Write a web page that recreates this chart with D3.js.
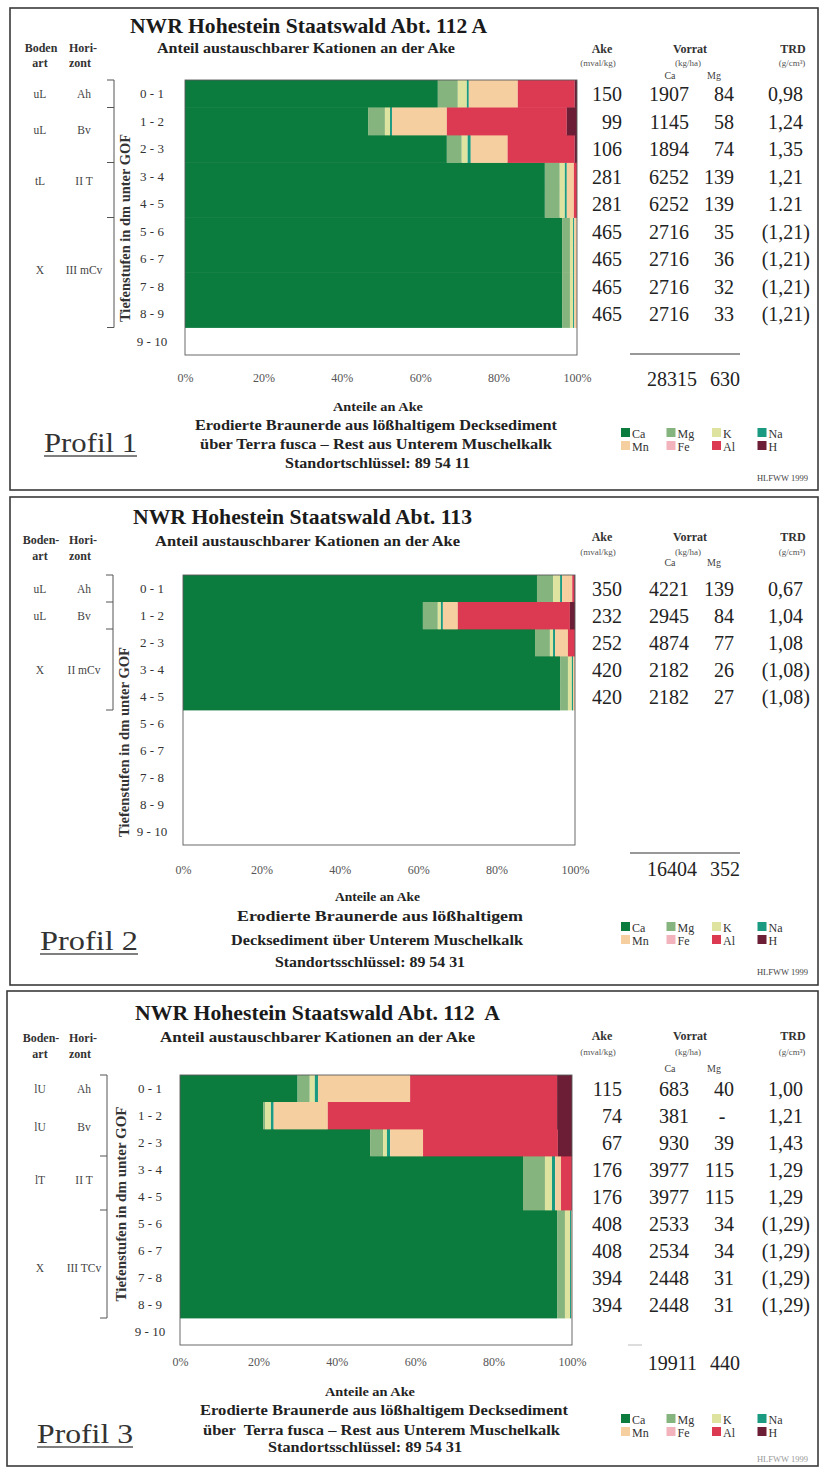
<!DOCTYPE html>
<html><head><meta charset="utf-8">
<script src="https://cdn.jsdelivr.net/npm/d3@7"></script>
<style>
body{margin:0;background:#fff}
svg{display:block}
text{font-family:"Liberation Serif","Times New Roman",serif}
</style>
</head><body>
<svg id="c" width="825" height="1472"></svg>
<script>
// ---------------- DATA ----------------
const cations = ["Ca","Mg","K","Na","Mn","Fe","Al","H"];
const cationColors = ["#0b7b3e","#86b47e","#dfe3a0","#1b9a82","#f5cfa0","#f2b3bd","#dc3a52","#6b1e35"];
const depthLabels = ["0 - 1","1 - 2","2 - 3","3 - 4","4 - 5","5 - 6","6 - 7","7 - 8","8 - 9","9 - 10"];
const tickValues = [0,20,40,60,80,100];

// Profil 1 – shares of Ake (%) per depth step
const p1Ca = [64.5,46.7,66.8,91.8,91.8,96.2,96.2,96.2,96.2];
const p1Mg = [5.1,4.3,3.8,3.8,3.8,2.0,2.0,2.0,2.0];
const p1K  = [2.3,1.3,1.5,1.3,1.3,0.8,0.8,0.8,0.8];
const p1Na = [0.5,0.5,0.8,0.5,0.5,0.3,0.3,0.3,0.3];
const p1Mn = [12.5,14.0,9.4,1.8,1.8,0.7,0.7,0.7,0.7];
const p1Fe = [0,0,0,0,0,0,0,0,0];
const p1Al = [14.5,30.6,17.1,0.8,0.8,0,0,0,0];
const p1H  = [0.6,2.6,0.6,0,0,0,0,0,0];
const p1Ake = ["150","99","106","281","281","465","465","465","465"];
const p1VorratCa = ["1907","1145","1894","6252","6252","2716","2716","2716","2716"];
const p1VorratMg = ["84","58","74","139","139","35","36","32","33"];
const p1Trd = ["0,98","1,24","1,35","1,21","1.21","(1,21)","(1,21)","(1,21)","(1,21)"];
const p1Totals = ["28315","630"];
const p1Bodenart = ["uL","uL","tL","X"];
const p1Horizont = ["Ah","Bv","II T","III mCv"];
const p1HorizonFrom = [0,1,3,5];
const p1HorizonTo = [1,3,5,9];
const p1BracketTicks = [0,1,3,5,9];
const p1Desc = ["Erodierte Braunerde aus lößhaltigem Decksediment","über Terra fusca – Rest aus Unterem Muschelkalk","Standortschlüssel: 89 54 11"];

// Profil 2
const p2Ca = [90.3,61.2,89.8,96.2,96.2];
const p2Mg = [4.1,3.8,3.8,2.0,2.0];
const p2K  = [1.8,0.8,0.8,1.0,1.0];
const p2Na = [0.5,0.5,0.5,0.3,0.3];
const p2Mn = [2.6,3.8,3.3,0.5,0.5];
const p2Fe = [0,0,0,0,0];
const p2Al = [0.5,28.6,1.8,0,0];
const p2H  = [0.2,1.3,0,0,0];
const p2Ake = ["350","232","252","420","420"];
const p2VorratCa = ["4221","2945","4874","2182","2182"];
const p2VorratMg = ["139","84","77","26","27"];
const p2Trd = ["0,67","1,04","1,08","(1,08)","(1,08)"];
const p2Totals = ["16404","352"];
const p2Bodenart = ["uL","uL","X"];
const p2Horizont = ["Ah","Bv","II mCv"];
const p2HorizonFrom = [0,1,2];
const p2HorizonTo = [1,2,5];
const p2BracketTicks = [0,1,2,5];
const p2Desc = ["Erodierte Braunerde aus lößhaltigem","Decksediment über Unterem Muschelkalk","Standortsschlüssel: 89 54 31"];

// Profil 3
const p3Ca = [30.0,21.2,48.5,87.5,87.5,96.2,96.2,96.2,96.2];
const p3Mg = [3.1,0.5,3.3,5.6,5.6,2.0,2.0,2.0,2.0];
const p3K  = [1.3,1.5,1.0,1.8,1.8,1.3,1.3,1.3,1.3];
const p3Na = [0.8,0.7,0.8,0.8,0.8,0.3,0.3,0.3,0.3];
const p3Mn = [23.5,13.8,8.4,1.5,1.5,0.2,0.2,0.2,0.2];
const p3Fe = [0,0,0,0,0,0,0,0,0];
const p3Al = [37.5,58.5,34.4,2.8,2.8,0,0,0,0];
const p3H  = [3.8,3.8,3.6,0,0,0,0,0,0];
const p3Ake = ["115","74","67","176","176","408","408","394","394"];
const p3VorratCa = ["683","381","930","3977","3977","2533","2534","2448","2448"];
const p3VorratMg = ["40","-","39","115","115","34","34","31","31"];
const p3Trd = ["1,00","1,21","1,43","1,29","1,29","(1,29)","(1,29)","(1,29)","(1,29)"];
const p3Totals = ["19911","440"];
const p3Bodenart = ["lU","lU","lT","X"];
const p3Horizont = ["Ah","Bv","II T","III TCv"];
const p3HorizonFrom = [0,1,3,5];
const p3HorizonTo = [1,3,5,9];
const p3BracketTicks = [0,3,5,9];
const p3Desc = ["Erodierte Braunerde aus lößhaltigem Decksediment","über\u00a0 Terra fusca – Rest aus Unterem Muschelkalk","Standortsschlüssel: 89 54 31"];

// ---------------- LAYOUT ----------------
const panels = [
  {name:"Profil 1", title:"NWR Hohestein Staatswald Abt. 112 A",
   series:[p1Ca,p1Mg,p1K,p1Na,p1Mn,p1Fe,p1Al,p1H], ake:p1Ake, vca:p1VorratCa, vmg:p1VorratMg, trd:p1Trd,
   totals:p1Totals, art:p1Bodenart, hor:p1Horizont, hf:p1HorizonFrom, ht:p1HorizonTo, bt:p1BracketTicks, desc:p1Desc,
   bodenHead:"Boden", labShift:[0,-5,-9,-3],
   box:[10,8,818,490], titleX:[130,487], titleY:33, subX:[157,455], subY:53, bodenY:52, artY:67,
   plotTop:80, rowH:27.5, x0:185, x1:577, bracketX:114, rowLabelX:152, yLabX:125, yLabC:228, yLabLen:188,
   headY:53, unitY:66, caMgY:79, tickY:382, totalLineY:354, totalsY:386, anteileY:411, descY:[430,449,468],
   descX:[[195,557],[200,552],[285,470]], anteileX:[333,423], profilX:[44,137], profilY:452, legendY:428, hlfwwY:481, faintH:false},
  {name:"Profil 2", title:"NWR Hohestein Staatswald Abt. 113",
   series:[p2Ca,p2Mg,p2K,p2Na,p2Mn,p2Fe,p2Al,p2H], ake:p2Ake, vca:p2VorratCa, vmg:p2VorratMg, trd:p2Trd,
   totals:p2Totals, art:p2Bodenart, hor:p2Horizont, hf:p2HorizonFrom, ht:p2HorizonTo, bt:p2BracketTicks, desc:p2Desc,
   bodenHead:"Boden-", labShift:[0,0,0],
   box:[10,497,818,985], titleX:[133,472], titleY:524, subX:[155,460], subY:546, bodenY:544, artY:560,
   plotTop:575, rowH:27, x0:183, x1:575, bracketX:113, rowLabelX:152, yLabX:124, yLabC:742, yLabLen:190,
   headY:541, unitY:555, caMgY:566, tickY:874, totalLineY:853, totalsY:876, anteileY:901, descY:[921,945,967],
   descX:[[237,523],[231,523],[275,465]], anteileX:[335,420], profilX:[40,138], profilY:950, legendY:922, hlfwwY:975, faintH:false},
  {name:"Profil 3", title:"NWR Hohestein Staatswald Abt. 112\u00a0 A",
   series:[p3Ca,p3Mg,p3K,p3Na,p3Mn,p3Fe,p3Al,p3H], ake:p3Ake, vca:p3VorratCa, vmg:p3VorratMg, trd:p3Trd,
   totals:p3Totals, art:p3Bodenart, hor:p3Horizont, hf:p3HorizonFrom, ht:p3HorizonTo, bt:p3BracketTicks, desc:p3Desc,
   bodenHead:"Boden-", labShift:[0,-2,-3,4],
   box:[7,991,818,1466], titleX:[135,500], titleY:1020, subX:[160,475], subY:1042, bodenY:1042, artY:1058,
   plotTop:1075, rowH:27, x0:180, x1:572, bracketX:107, rowLabelX:150, yLabX:121, yLabC:1204, yLabLen:195,
   headY:1040, unitY:1055, caMgY:1072, tickY:1366, totalLineY:null, totalsY:1370, anteileY:1396, descY:[1415,1435,1452],
   descX:[[200,568],[203,560],[268,462]], anteileX:[325,415], profilX:[37,133], profilY:1443, legendY:1414, hlfwwY:1462, faintH:true}
];

const svg = d3.select("#c");

function T(g, str, x, y, o={}) {
  const t = g.append("text").attr("x",x).attr("y",y).text(str)
    .attr("font-size",o.size||12).attr("fill",o.fill||"#222")
    .attr("text-anchor",o.anchor||"middle");
  if (o.weight) t.attr("font-weight",o.weight);
  if (o.len) t.attr("textLength",o.len).attr("lengthAdjust","spacingAndGlyphs");
  return t;
}

function drawPanel(p) {
  const g = svg.append("g");
  const [bx0,by0,bx1,by1] = p.box;
  g.append("rect").attr("x",bx0).attr("y",by0).attr("width",bx1-bx0).attr("height",by1-by0)
    .attr("fill","none").attr("stroke","#3a3a3a").attr("stroke-width",1.6);

  const x = d3.scaleLinear().domain([0,100]).range([p.x0,p.x1]);
  const y = d3.scaleBand().domain(depthLabels).range([p.plotTop, p.plotTop + p.rowH*depthLabels.length]);
  const yDepth = d3.scaleLinear().domain([0,10]).range([p.plotTop, p.plotTop + p.rowH*10]);

  const n = p.series[0].length;
  const rows = d3.range(n).map(i => {
    const o = {depth: depthLabels[i]};
    cations.forEach((c,j) => o[c] = p.series[j][i]);
    return o;
  });
  const stacked = d3.stack().keys(cations)(rows);
  g.append("g").selectAll("g").data(stacked).join("g")
    .attr("fill",(d,i)=>cationColors[i])
    .selectAll("rect").data(d=>d).join("rect")
    .attr("x",d=>x(d[0])).attr("width",d=>Math.max(0,x(d[1])-x(d[0])))
    .attr("y",d=>y(d.data.depth)).attr("height",y.bandwidth()+0.4);

  g.append("rect").attr("x",p.x0).attr("y",p.plotTop).attr("width",p.x1-p.x0).attr("height",p.rowH*10)
    .attr("fill","none").attr("stroke","#5a5a5a").attr("stroke-width",0.9);

  const ax = g.append("g").attr("transform",`translate(0,${p.tickY})`)
    .call(d3.axisBottom(x).tickValues(tickValues).tickSize(0).tickFormat(d=>d+"%"));
  ax.attr("font-family",null);
  ax.select(".domain").remove();
  ax.selectAll("text").attr("y",0).attr("dy",0).attr("font-size",12).attr("fill","#555");

  const ay = g.append("g").attr("transform",`translate(${p.rowLabelX},0)`)
    .call(d3.axisLeft(y).tickSize(0));
  ay.attr("font-family",null);
  ay.select(".domain").remove();
  ay.selectAll("text").attr("x",0).attr("dy","0.35em").attr("text-anchor","middle")
    .attr("font-size",13).attr("fill","#333");

  // bracket
  const bTop = yDepth(d3.min(p.bt)), bBot = yDepth(d3.max(p.bt));
  g.append("line").attr("x1",p.bracketX).attr("x2",p.bracketX).attr("y1",bTop).attr("y2",bBot)
    .attr("stroke","#555").attr("stroke-width",1);
  g.selectAll("line.bt").data(p.bt).join("line")
    .attr("x1",p.bracketX-7).attr("x2",p.bracketX).attr("y1",d=>yDepth(d)).attr("y2",d=>yDepth(d))
    .attr("stroke","#555").attr("stroke-width",1);

  p.art.forEach((a,i) => {
    const yc = (yDepth(p.hf[i]) + yDepth(p.ht[i]))/2 + 4 + p.labShift[i];
    T(g, a, 40, yc, {size:11.5, fill:"#444"});
    T(g, p.hor[i], 84, yc, {size:11.5, fill:"#444"});
  });

  g.append("text").attr("transform",`translate(${p.yLabX+5},${p.yLabC}) rotate(-90)`)
    .attr("text-anchor","middle").attr("font-size",14).attr("font-weight","bold").attr("fill","#333")
    .attr("textLength",p.yLabLen).attr("lengthAdjust","spacingAndGlyphs")
    .text("Tiefenstufen in dm unter GOF");

  T(g, p.title, (p.titleX[0]+p.titleX[1])/2, p.titleY, {size:22, weight:"bold", fill:"#1a1a1a", len:p.titleX[1]-p.titleX[0]});
  T(g, "Anteil austauschbarer Kationen an der Ake", (p.subX[0]+p.subX[1])/2, p.subY, {size:15, weight:"bold", fill:"#222", len:p.subX[1]-p.subX[0]});
  T(g, p.bodenHead, 41, p.bodenY, {size:12, weight:"bold", fill:"#333"});
  T(g, "Hori-", 83, p.bodenY, {size:12, weight:"bold", fill:"#333"});
  T(g, "art", 40, p.artY, {size:12, weight:"bold", fill:"#333"});
  T(g, "zont", 80, p.artY, {size:12, weight:"bold", fill:"#333"});

  T(g, "Ake", 602, p.headY, {size:12, weight:"bold", fill:"#333"});
  T(g, "(mval/kg)", 598, p.unitY, {size:9, fill:"#555"});
  T(g, "Vorrat", 690, p.headY, {size:12, weight:"bold", fill:"#333"});
  T(g, "(kg/ha)", 688, p.unitY, {size:9, fill:"#555"});
  T(g, "Ca", 670, p.caMgY, {size:10, fill:"#444"});
  T(g, "Mg", 714, p.caMgY, {size:10, fill:"#444"});
  T(g, "TRD", 793, p.headY, {size:12, weight:"bold", fill:"#333"});
  T(g, "(g/cm³)", 792, p.unitY, {size:9, fill:"#555"});

  d3.range(n).forEach(i => {
    const yb = y(depthLabels[i]) + p.rowH/2 + 7.5;
    T(g, p.ake[i], 622, yb, {size:20, anchor:"end"});
    T(g, p.vca[i], 689, yb, {size:20, anchor:"end"});
    const dash = p.vmg[i] === "-";
    T(g, p.vmg[i], dash?722:734, yb, {size:20, anchor:dash?"middle":"end"});
    const paren = p.trd[i].startsWith("(");
    T(g, p.trd[i], paren?810:803, yb, {size:20, anchor:"end"});
  });

  if (p.totalLineY) {
    g.append("line").attr("x1",630).attr("x2",740).attr("y1",p.totalLineY).attr("y2",p.totalLineY)
      .attr("stroke","#333").attr("stroke-width",1.2);
  } else {
    g.append("line").attr("x1",628).attr("x2",642).attr("y1",p.totalsY-25).attr("y2",p.totalsY-25)
      .attr("stroke","#bbb").attr("stroke-width",1);
  }
  T(g, p.totals[0], 697, p.totalsY, {size:20, anchor:"end"});
  T(g, p.totals[1], 740, p.totalsY, {size:20, anchor:"end"});

  T(g, "Anteile an Ake", (p.anteileX[0]+p.anteileX[1])/2, p.anteileY, {size:12.5, weight:"bold", fill:"#222", len:p.anteileX[1]-p.anteileX[0]});
  p.desc.forEach((s,i) => {
    T(g, s, (p.descX[i][0]+p.descX[i][1])/2, p.descY[i], {size:15, weight:"bold", fill:"#222", len:p.descX[i][1]-p.descX[i][0]});
  });

  T(g, p.name, (p.profilX[0]+p.profilX[1])/2, p.profilY, {size:28, fill:"#333", len:p.profilX[1]-p.profilX[0]});
  g.append("line").attr("x1",p.profilX[0]).attr("x2",p.profilX[1]).attr("y1",p.profilY+4).attr("y2",p.profilY+4)
    .attr("stroke","#555").attr("stroke-width",1.3);

  const lg = g.append("g");
  cations.forEach((c,i) => {
    const col = i % 4, row = Math.floor(i/4);
    const lx = 621 + col*45.5, ly = p.legendY + row*13;
    lg.append("rect").attr("x",lx).attr("y",ly).attr("width",9).attr("height",9).attr("fill",cationColors[i]);
    T(lg, c, lx+11, ly+9.5, {size:12, anchor:"start", fill:"#333"});
  });

  T(g, "HLFWW 1999", 808, p.hlfwwY, {size:8.5, anchor:"end", fill:p.faintH?"#999":"#444"});
}

panels.forEach(drawPanel);
</script>
</body></html>
